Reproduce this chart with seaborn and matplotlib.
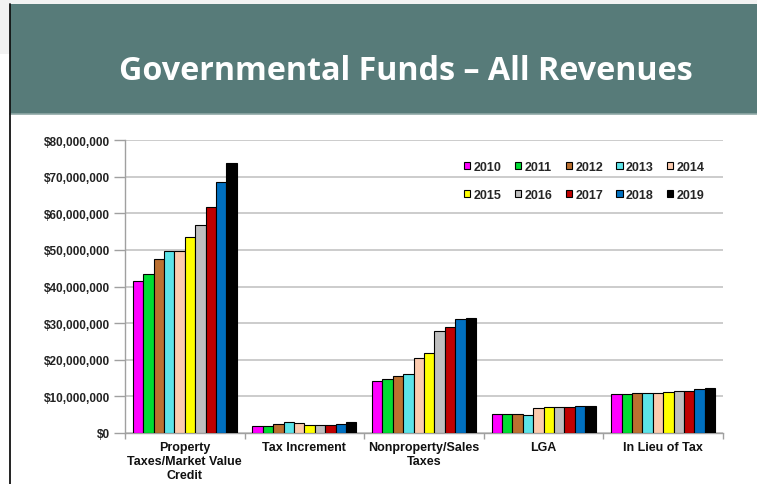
import matplotlib
matplotlib.use("Agg")
import matplotlib.pyplot as plt
from matplotlib.patches import Rectangle
from matplotlib.lines import Line2D
from matplotlib.ticker import FuncFormatter, FixedLocator
import seaborn as sns
import pandas as pd

categories = [
    "Property\nTaxes/Market Value\nCredit",
    "Tax Increment",
    "Nonproperty/Sales\nTaxes",
    "LGA",
    "In Lieu of Tax",
]
years = ["2010", "2011", "2012", "2013", "2014",
         "2015", "2016", "2017", "2018", "2019"]

# Revenue by source, one list per year (dollars)
rev_2010 = [41.5e6, 2.0e6, 14.2e6, 5.1e6, 10.6e6]
rev_2011 = [43.3e6, 1.8e6, 14.7e6, 5.1e6, 10.6e6]
rev_2012 = [47.5e6, 2.5e6, 15.5e6, 5.1e6, 10.9e6]
rev_2013 = [49.7e6, 2.9e6, 16.1e6, 5.0e6, 10.8e6]
rev_2014 = [49.7e6, 2.6e6, 20.5e6, 6.9e6, 10.8e6]
rev_2015 = [53.6e6, 2.2e6, 21.9e6, 7.1e6, 11.3e6]
rev_2016 = [56.7e6, 2.2e6, 27.8e6, 7.0e6, 11.5e6]
rev_2017 = [61.7e6, 2.2e6, 29.0e6, 7.1e6, 11.6e6]
rev_2018 = [68.4e6, 2.5e6, 31.1e6, 7.5e6, 12.1e6]
rev_2019 = [73.8e6, 3.1e6, 31.5e6, 7.5e6, 12.2e6]

series = [rev_2010, rev_2011, rev_2012, rev_2013, rev_2014,
          rev_2015, rev_2016, rev_2017, rev_2018, rev_2019]

colors = ["#ff00ff", "#00dd33", "#bb7030", "#5ce3e8", "#fccbae",
          "#ffff00", "#bfbfbf", "#c00000", "#0070c0", "#000000"]

rows = []
for yr, vals in zip(years, series):
    for cat, v in zip(categories, vals):
        rows.append({"Source": cat, "Year": yr, "Revenue": v})
df = pd.DataFrame(rows)

sns.set_theme(style="white")
plt.rcParams["font.family"] = ["Liberation Sans", "DejaVu Sans"]

W, H = 757, 485
fig = plt.figure(figsize=(W / 100, H / 100), dpi=100)
fig.patch.set_facecolor("white")

# Slide header band and frame
fig.patches.append(Rectangle((0, (H - 5) / H), 1, 5 / H, transform=fig.transFigure,
                             facecolor="#f2f2f2", edgecolor="none", zorder=0))
fig.patches.append(Rectangle((0, (H - 55) / H), 9 / W, 55 / H, transform=fig.transFigure,
                             facecolor="#f2f2f2", edgecolor="none", zorder=0))
fig.patches.append(Rectangle((10 / W, (H - 115) / H), 1 - 10 / W, 110 / H,
                             transform=fig.transFigure, facecolor="#577b79",
                             edgecolor="none", zorder=1))
fig.lines.append(Line2D([10 / W, 1], [(H - 115) / H] * 2, transform=fig.transFigure,
                        color="#8fa8a6", lw=1.2, zorder=2))
fig.lines.append(Line2D([9.5 / W] * 2, [0, (H - 5) / H], transform=fig.transFigure,
                        color="#111111", lw=1.3, zorder=2))
fig.text(406 / W, (H - 71) / H, "Governmental Funds \u2013 All Revenues",
         color="white", fontsize=23.2, fontweight="bold", family="Open Sans",
         ha="center", va="center", zorder=3)

ax = fig.add_axes([125 / W, 51 / H, 598 / W, 293 / H])
sns.barplot(data=df, x="Source", y="Revenue", hue="Year", hue_order=years,
            palette=colors, width=0.87, edgecolor="black", linewidth=0.8,
            saturation=1, errorbar=None, ax=ax, zorder=3)

ax.set_ylim(0, 80e6)
ax.set_xlim(-0.5, 4.5)
ax.set_yticks([i * 10e6 for i in range(9)])
ax.yaxis.set_major_formatter(FuncFormatter(lambda v, p: f"${v:,.0f}"))
ax.yaxis.grid(True, color="#c4c4c4", lw=1.2, zorder=0)
ax.set_axisbelow(True)
ax.set_xlabel("")
ax.set_ylabel("")

for s in ["top", "right"]:
    ax.spines[s].set_visible(False)
for s in ["left", "bottom"]:
    ax.spines[s].set_color("#a0a0a0")
    ax.spines[s].set_linewidth(1.0)

ax.tick_params(axis="y", length=8, width=1, color="#a0a0a0", pad=3,
               labelsize=8.5, labelcolor="#222222", left=True)
for t in ax.get_yticklabels():
    t.set_fontweight("bold")

ax.tick_params(axis="x", which="major", length=0, pad=6, labelsize=9,
               labelcolor="#111111")
for t in ax.get_xticklabels():
    t.set_fontweight("bold")
    t.set_linespacing(1.2)
ax.xaxis.set_minor_locator(FixedLocator([i - 0.5 for i in range(6)]))
ax.tick_params(axis="x", which="minor", length=4, width=1, color="#a0a0a0",
               bottom=True)

# Legend fills column by column; order entries so rows read 2010-2014, 2015-2019
handles, labels = ax.get_legend_handles_labels()
order = [0, 5, 1, 6, 2, 7, 3, 8, 4, 9]
ax.legend([handles[i] for i in order], [labels[i] for i in order], ncol=5,
          loc="upper left",
          bbox_to_anchor=(458 / W, (H - 156) / H), bbox_transform=fig.transFigure,
          frameon=False, handlelength=0.5, handleheight=0.5, handletextpad=0.25,
          columnspacing=1.08, labelspacing=1.25, borderpad=0,
          prop={"weight": "bold", "size": 9, "family": "Liberation Sans"})

fig.savefig("out.png", dpi=100)
